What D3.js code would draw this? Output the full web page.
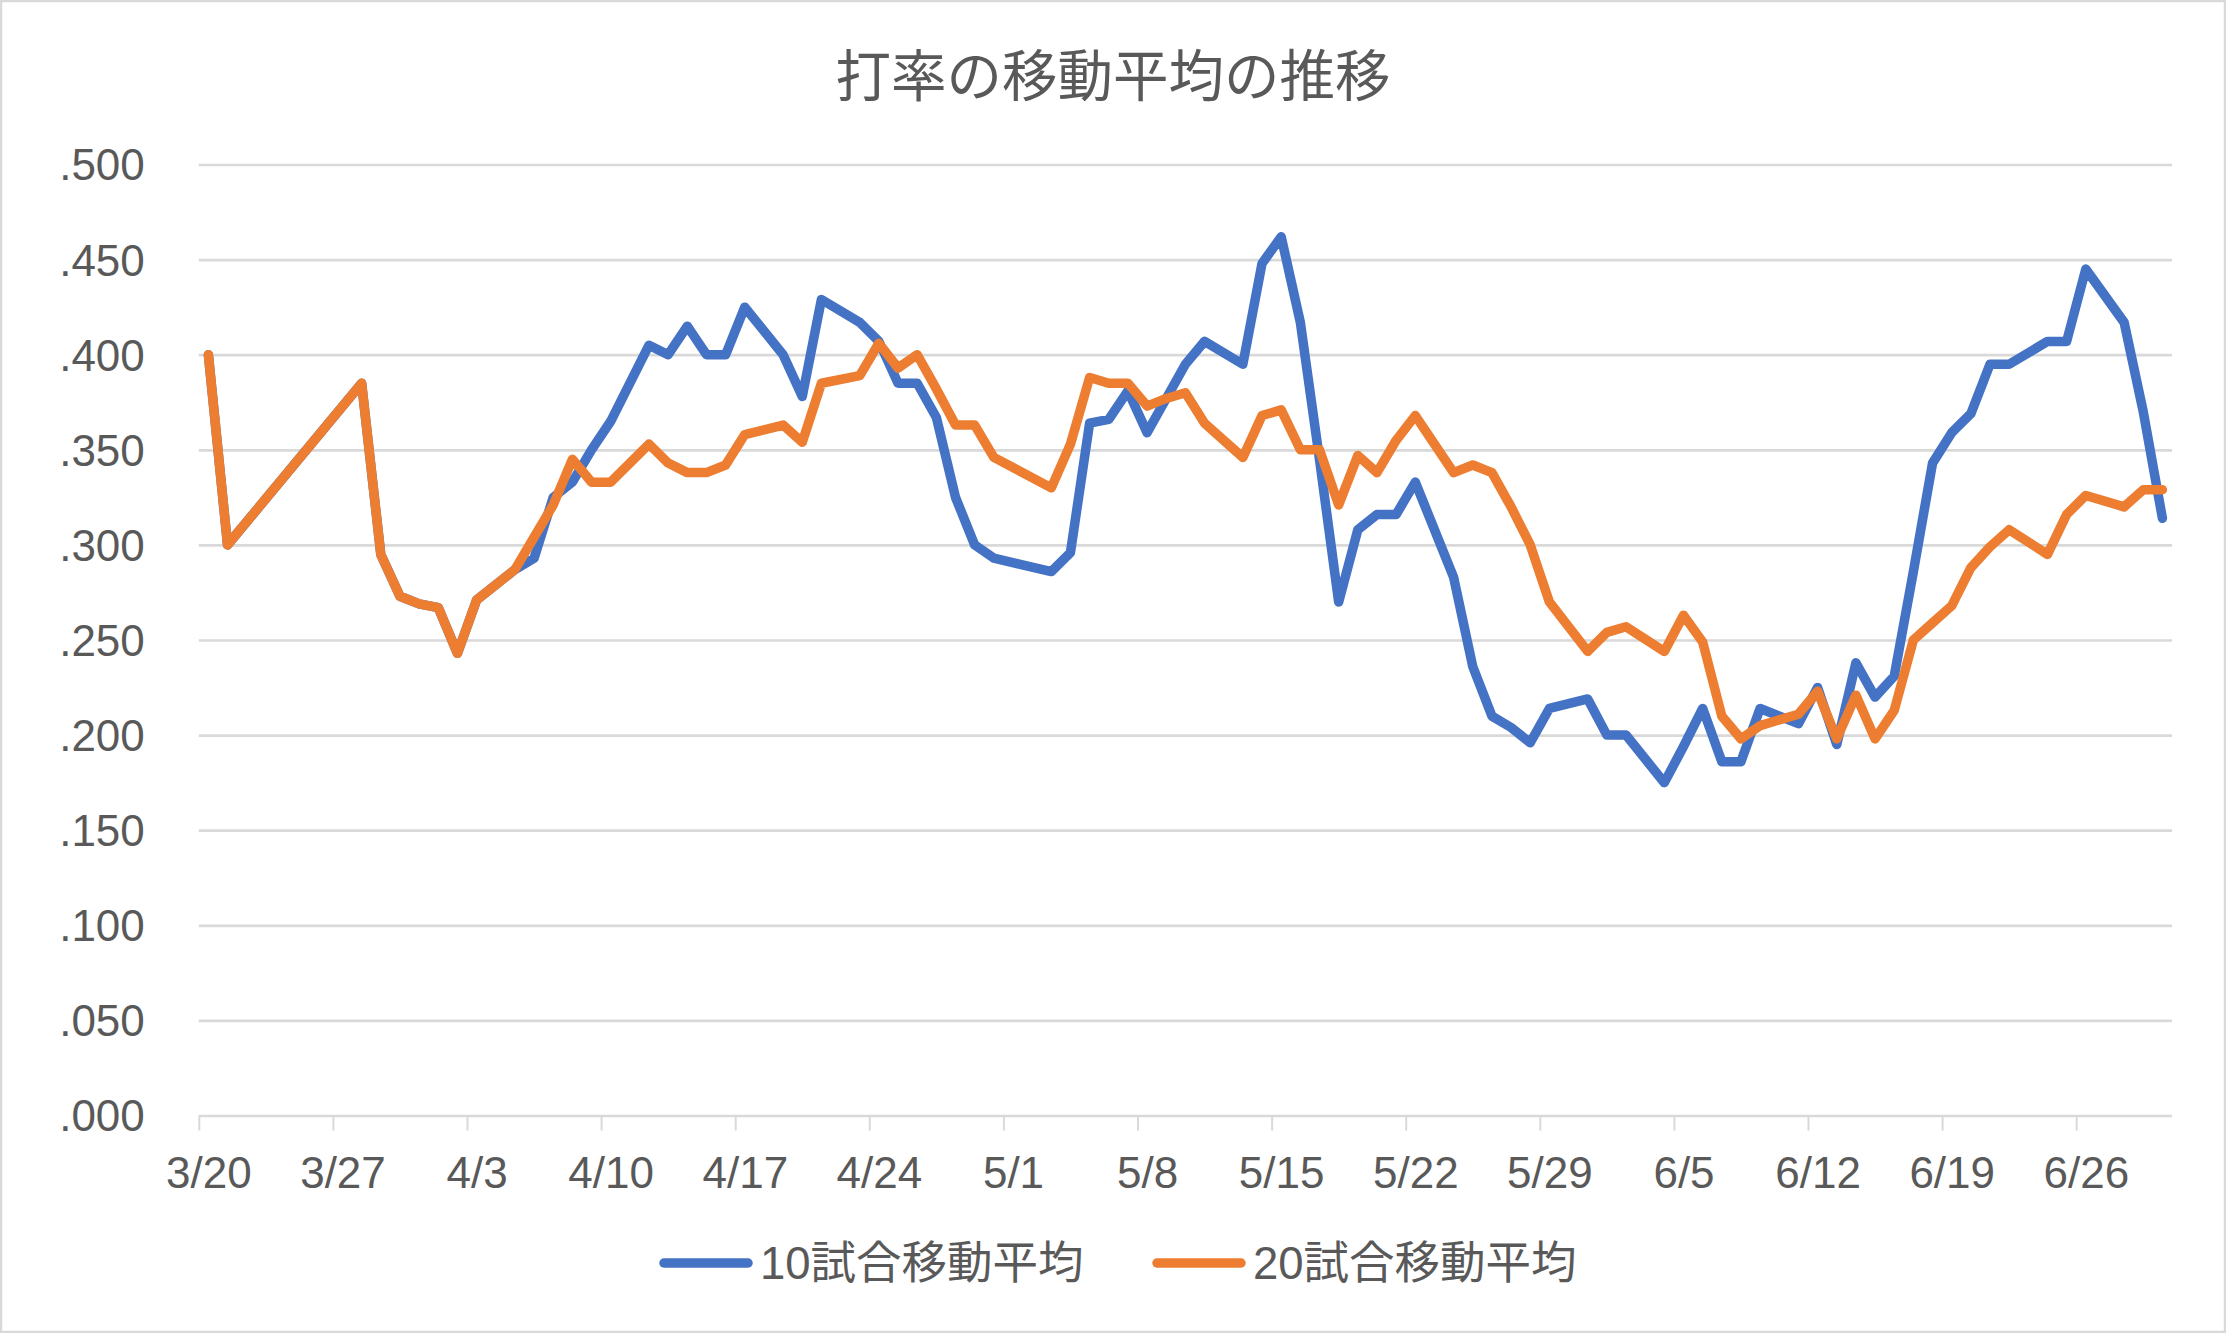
<!DOCTYPE html>
<html>
<head>
<meta charset="utf-8">
<script src="https://cdn.jsdelivr.net/npm/d3@7"></script>
<style>
  html, body { margin: 0; padding: 0; background: #ffffff; }
  svg { display: block; }
</style>
</head>
<body>
<script>
// ---------- data ----------
const title = "打率の移動平均の推移";
const seriesNames = ["10試合移動平均", "20試合移動平均"];
const seriesColors = ["#4472C4", "#ED7D31"];
const year = 2019;
const axisStart = "3/20";
const axisEnd = "7/1";

const gameDates = [
  "3/20","3/21","3/28","3/29","3/30","3/31","4/1","4/2","4/3","4/5",
  "4/6","4/7","4/8","4/9","4/10","4/12","4/13","4/14","4/15","4/16",
  "4/17","4/19","4/20","4/21","4/23","4/24","4/25","4/26","4/27","4/28",
  "4/29","4/30","5/3","5/4","5/5","5/6","5/7","5/8","5/9","5/10",
  "5/11","5/13","5/14","5/15","5/16","5/17","5/18","5/19","5/20","5/21",
  "5/22","5/24","5/25","5/26","5/27","5/28","5/29","5/31","6/1","6/2",
  "6/4","6/5","6/6","6/7","6/8","6/9","6/11","6/12","6/13","6/14",
  "6/15","6/16","6/17","6/18","6/19","6/20","6/21","6/22","6/24","6/25",
  "6/26","6/28","6/29","6/30"
];

const avg10 = [
  .400,.300,.385,.295,.273,.269,.267,.243,.271,.287,
  .293,.325,.333,.350,.365,.405,.400,.415,.400,.400,
  .425,.400,.378,.429,.417,.407,.385,.385,.367,.325,
  .300,.293,.286,.296,.364,.366,.381,.359,.377,.395,
  .407,.395,.448,.462,.417,.345,.270,.308,.316,.316,
  .333,.283,.236,.210,.204,.196,.214,.219,.200,.200,
  .175,.194,.214,.186,.186,.214,.206,.225,.195,.238,
  .220,.231,.286,.343,.359,.369,.395,.395,.407,.407,
  .445,.417,.370,.314
];

const avg20 = [
  .400,.300,.385,.295,.273,.269,.267,.243,.271,.287,
  .304,.321,.345,.333,.333,.353,.343,.338,.338,.342,
  .358,.363,.354,.385,.389,.406,.393,.400,.382,.363,
  .363,.346,.330,.353,.388,.385,.385,.373,.377,.380,
  .364,.346,.368,.371,.350,.350,.321,.347,.338,.355,
  .368,.338,.342,.338,.320,.300,.270,.244,.254,.257,
  .244,.263,.249,.210,.198,.205,.211,.223,.198,.221,
  .198,.213,.250,.259,.268,.288,.299,.308,.295,.316,
  .326,.320,.329,.329
];

const xTickLabels = ["3/20","3/27","4/3","4/10","4/17","4/24","5/1","5/8","5/15","5/22","5/29","6/5","6/12","6/19","6/26"];
const yTickValues = [0, .05, .10, .15, .20, .25, .30, .35, .40, .45, .50];

// ---------- layout ----------
const W = 2226, H = 1333;
const plot = { left: 198.8, right: 2172, top: 164.5, bottom: 1115.5 };
const textColor = "#595959";
const gridColor = "#d9d9d9";
const latinFont = "'Liberation Sans', Arial, 'Noto Sans CJK JP', sans-serif";
const cjkFont = "'Noto Sans CJK JP', 'Liberation Sans', sans-serif";

const parse = s => { const [m, d] = s.split("/").map(Number); return new Date(year, m - 1, d); };
const halfDay = d => d3.timeHour.offset(d, 12);

const x = d3.scaleTime().domain([parse(axisStart), parse(axisEnd)]).range([plot.left, plot.right]);
const y = d3.scaleLinear().domain([0, 0.5]).range([plot.bottom, plot.top]);

const svg = d3.select("body").append("svg").attr("width", W).attr("height", H);

svg.append("rect").attr("x", 1).attr("y", 1).attr("width", W - 2).attr("height", H - 2)
  .attr("fill", "#ffffff").attr("stroke", gridColor).attr("stroke-width", 2.5);

// title
svg.append("text").attr("x", 1113).attr("y", 72)
  .attr("text-anchor", "middle").attr("dominant-baseline", "central")
  .attr("font-family", cjkFont).attr("font-size", 55.5).attr("fill", textColor)
  .text(title);

// y gridlines + labels
const yAxis = d3.axisLeft(y).tickValues(yTickValues)
  .tickSize(-(plot.right - plot.left))
  .tickFormat(d => d3.format(".3f")(d).replace(/^0/, ""));
const gy = svg.append("g").attr("transform", `translate(${plot.left},0)`).call(yAxis);
gy.select(".domain").remove();
gy.selectAll(".tick line").attr("stroke", gridColor).attr("stroke-width", 2.7);
gy.selectAll(".tick text").attr("x", -54).attr("dy", "0.35em")
  .attr("font-family", latinFont).attr("font-size", 44).attr("fill", textColor);

// x axis ticks & labels
const tickDates = xTickLabels.map(parse);
const dayPx = x(d3.timeDay.offset(parse(axisStart), 1)) - x(parse(axisStart));
const xAxis = d3.axisBottom(x).tickValues(tickDates).tickSize(15)
  .tickFormat(d3.timeFormat("%-m/%-d"));
const gx = svg.append("g").attr("transform", `translate(0,${plot.bottom})`).call(xAxis);
gx.select(".domain").remove();
gx.selectAll(".tick line").attr("stroke", gridColor).attr("stroke-width", 2);
gx.selectAll(".tick text").attr("x", dayPx / 2).attr("y", 57).attr("dy", "0.35em")
  .attr("font-family", latinFont).attr("font-size", 44).attr("fill", textColor);

// lines
const line = d3.line()
  .x(d => x(halfDay(d.date)))
  .y(d => y(d.value));

const series = [avg10, avg20].map((vals, i) => ({
  name: seriesNames[i], color: seriesColors[i],
  points: gameDates.map((s, j) => ({ date: parse(s), value: vals[j] }))
}));

svg.append("g").selectAll("path").data(series).join("path")
  .attr("d", d => line(d.points))
  .attr("fill", "none")
  .attr("stroke", d => d.color)
  .attr("stroke-width", 9.5)
  .attr("stroke-linejoin", "round")
  .attr("stroke-linecap", "round");

// legend
const legendY = 1263;
const legendX = [664, 1157];
const lg = svg.append("g").selectAll("g").data(series).join("g")
  .attr("transform", (d, i) => `translate(${legendX[i]},${legendY})`);
lg.append("line").attr("x1", 0).attr("x2", 84).attr("y1", 0).attr("y2", 0)
  .attr("stroke", d => d.color).attr("stroke-width", 9.5).attr("stroke-linecap", "round");
lg.append("text").attr("x", 96).attr("y", 0).attr("dy", "0.35em")
  .attr("font-family", latinFont).attr("font-size", 45.5).attr("fill", textColor)
  .text(d => d.name);
</script>
</body>
</html>
